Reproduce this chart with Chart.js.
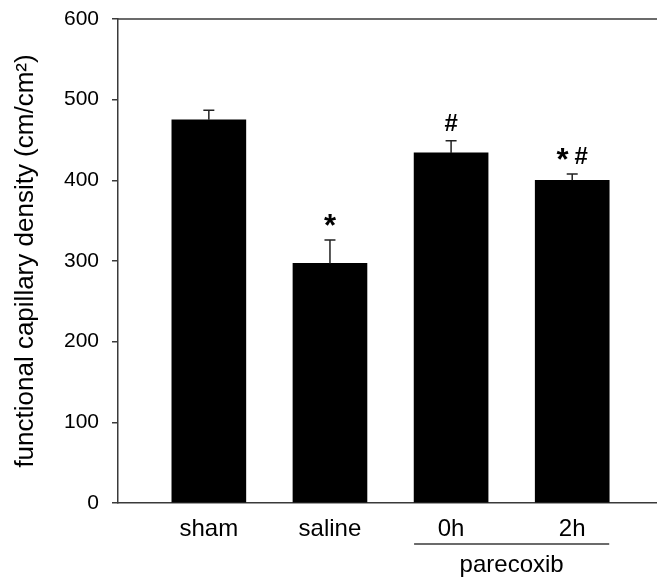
<!DOCTYPE html>
<html>
<head>
<meta charset="utf-8">
<script src="https://cdn.jsdelivr.net/npm/chart.js@4/dist/chart.umd.min.js"></script>
<style>
  body { margin: 0; background: #fff; }
  #wrap { width: 657px; height: 577px; }
</style>
</head>
<body>
<div id="wrap"><canvas id="myChart"></canvas></div>
<script>
// data
const groups = ['sham', 'saline', '0h', '2h'];
const density = [475, 297, 434, 400];
const sem = [12, 29, 15, 8];
const marks = ['', '*', '#', '*#'];
const yTicks = [0, 100, 200, 300, 400, 500, 600];
const groupLabel = 'parecoxib';
const groupedBars = [2, 3];

const FONT = '"Liberation Sans", Arial, sans-serif';
const AXIS = '#3a3a3a';

function markFont(c) {
    return (c === '*' ? 'bold 31px ' : 'bold 24px ') + FONT;
}

// error bars, significance marks, top frame and the parecoxib bracket
const extras = {
    id: 'extras',
    afterDatasetsDraw(chart) {
        const ctx = chart.ctx;
        const ys = chart.scales.y;
        const area = chart.chartArea;
        const meta = chart.getDatasetMeta(0);
        ctx.save();
        ctx.strokeStyle = AXIS;
        ctx.lineWidth = 1.5;
        // top frame line
        ctx.beginPath();
        ctx.moveTo(area.left, area.top);
        ctx.lineTo(area.right, area.top);
        ctx.stroke();

        for (let i = 0; i < density.length; i++) {
            let x = meta.data[i].x;
            let yBar = ys.getPixelForValue(density[i]);
            let yTop = ys.getPixelForValue(density[i] + sem[i]);
            ctx.strokeStyle = '#222';
            ctx.beginPath();
            ctx.moveTo(x, yBar);
            ctx.lineTo(x, yTop);
            ctx.moveTo(x - 5.5, yTop);
            ctx.lineTo(x + 5.5, yTop);
            ctx.stroke();

            // significance symbols
            let chars = marks[i].split('');
            if (chars.length == 0) continue;
            let widths = [];
            let total = 0;
            for (let c of chars) {
                ctx.font = markFont(c);
                let w = ctx.measureText(c).width;
                widths.push(w);
                total += w;
            }
            total += (chars.length - 1) * 6;
            let cx = x - total / 2;
            ctx.fillStyle = '#000';
            ctx.textAlign = 'left';
            ctx.textBaseline = 'alphabetic';
            chars.forEach((c, k) => {
                ctx.font = markFont(c);
                let base = yTop - 10 + (c === '*' ? 6 : 0);
                ctx.fillText(c, cx, base);
                cx += widths[k] + 6;
            });
        }

        // bracket under the parecoxib groups
        let first = meta.data[groupedBars[0]];
        let last = meta.data[groupedBars[groupedBars.length - 1]];
        let x0 = first.x - first.width / 2;
        let x1 = last.x + last.width / 2;
        let yLine = area.bottom + 41;
        ctx.strokeStyle = AXIS;
        ctx.lineWidth = 1.5;
        ctx.beginPath();
        ctx.moveTo(x0, yLine);
        ctx.lineTo(x1, yLine);
        ctx.stroke();
        ctx.fillStyle = '#000';
        ctx.font = '24px ' + FONT;
        ctx.textAlign = 'center';
        ctx.textBaseline = 'alphabetic';
        ctx.fillText(groupLabel, (x0 + x1) / 2, yLine + 28);
        ctx.restore();
    }
};

const ctx = document.getElementById('myChart');
new Chart(ctx, {
    type: 'bar',
    data: {
        datasets: [{
            data: density.map((v, i) => ({ x: i, y: v })),
            backgroundColor: '#000',
            borderWidth: 0,
            barThickness: 74
        }]
    },
    options: {
        responsive: true,
        maintainAspectRatio: false,
        animation: false,
        layout: { padding: { top: 19, right: 0, left: 0, bottom: 0 } },
        plugins: {
            legend: { display: false },
            tooltip: { enabled: false }
        },
        scales: {
            x: {
                type: 'linear',
                offset: false,
                min: -0.75,
                max: 3.7,
                afterBuildTicks: (s) => { s.ticks = groups.map((g, i) => ({ value: i })); },
                afterFit: (s) => { s.height = 74; },
                grid: { display: false },
                border: { display: true, color: AXIS, width: 1.5 },
                ticks: {
                    padding: 4,
                    color: '#000',
                    font: { family: FONT, size: 24 },
                    callback: (v) => groups[v]
                }
            },
            y: {
                min: 0,
                max: 600,
                afterBuildTicks: (s) => { s.ticks = yTicks.map(v => ({ value: v })); },
                afterFit: (s) => {
                    s.width = 118;
                    s.paddingTop = 0;
                    s.paddingBottom = 0;
                },
                grid: { drawOnChartArea: false, drawTicks: true, tickLength: 6, color: AXIS, lineWidth: 1.5 },
                border: { display: true, color: AXIS, width: 1.5 },
                ticks: {
                    padding: 13,
                    color: '#000',
                    font: { family: FONT, size: 21 }
                },
                title: {
                    display: true,
                    text: 'functional capillary density (cm/cm²)',
                    color: '#000',
                    font: { family: FONT, size: 26 },
                    padding: { top: 10, bottom: 0 }
                }
            }
        }
    },
    plugins: [extras]
});
</script>
</body>
</html>
